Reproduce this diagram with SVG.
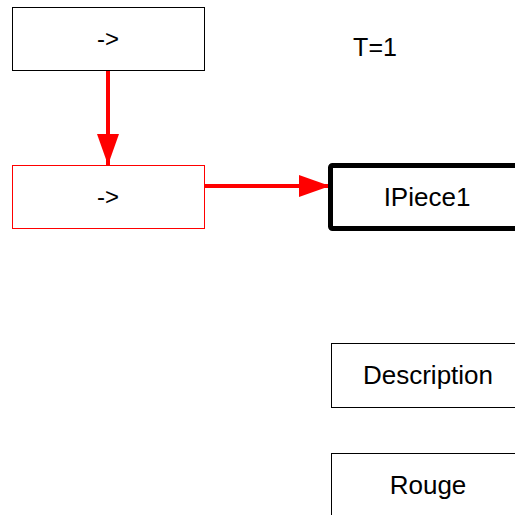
<svg xmlns="http://www.w3.org/2000/svg" width="515" height="515" viewBox="0 0 515 515">
<style>
.box{fill:#fff;stroke:#000;stroke-width:1}
.red{fill:#fff;stroke:#f00;stroke-width:1}
.thick{fill:#fff;stroke:#000;stroke-width:5}
text{font-family:"Liberation Sans",Arial,sans-serif;font-size:26px;fill:#000;text-anchor:middle}
.conn{stroke:#f00;stroke-width:4;fill:none}
</style>
<defs>
<marker id="ah" markerUnits="userSpaceOnUse" markerWidth="32" markerHeight="22" refX="31" refY="11" orient="auto">
<path d="M0,0 L31,11 L0,22 Z" fill="#f00"/>
</marker>
</defs>
<rect width="515" height="515" fill="#fff"/>
<text x="375" y="56" style="font-size:25px">T=1</text>
<g id="connectors">
<path class="conn" d="M108,70 L108,165" marker-end="url(#ah)"/>
<path class="conn" d="M204,186 L330,186" marker-end="url(#ah)"/>
</g>
<g id="n1"><rect class="box" x="12.5" y="7.5" width="192" height="63"/><text x="108" y="47" style="font-size:24px">-&gt;</text></g>
<g id="n2"><rect class="red" x="12.5" y="165.5" width="192" height="63"/><text x="108" y="205" style="font-size:24px">-&gt;</text></g>
<g id="n3"><rect class="thick" x="330.5" y="165.5" width="192" height="63" rx="2"/><text x="427" y="206">IPiece1</text></g>
<g id="n4"><rect class="box" x="331.5" y="343.5" width="192" height="64"/><text x="428" y="384">Description</text></g>
<g id="n5"><rect class="box" x="331.5" y="453.5" width="192" height="64"/><text x="428" y="494">Rouge</text></g>
</svg>
